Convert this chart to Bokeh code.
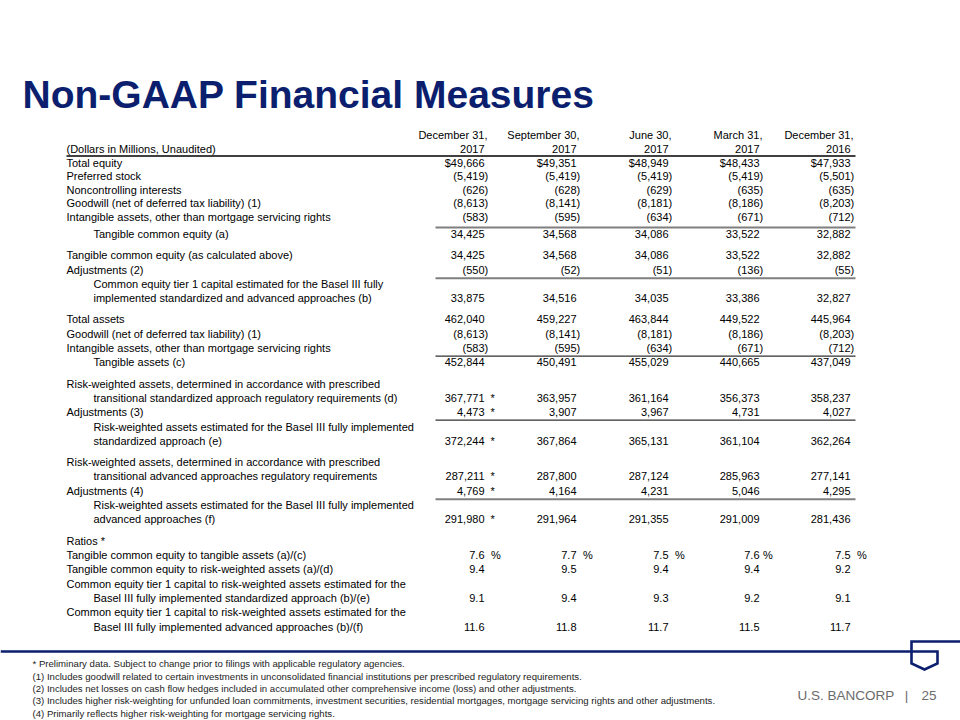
from bokeh.plotting import figure
from bokeh.models import Range1d, ColumnDataSource
from bokeh.core.properties import value
from bokeh.embed import file_html
from bokeh.resources import INLINE

# ---------------- data ----------------
title = "Non-GAAP Financial Measures"
unit_label = "(Dollars in Millions, Unaudited)"
period_month = ["December 31,", "September 30,", "June 30,", "March 31,", "December 31,"]
period_year = ["2017", "2017", "2017", "2017", "2016"]

row_labels = [
    "Total equity",
    "Preferred stock",
    "Noncontrolling interests",
    "Goodwill (net of deferred tax liability) (1)",
    "Intangible assets, other than mortgage servicing rights",
    "Tangible common equity (a)",
    "Tangible common equity (as calculated above)",
    "Adjustments (2)",
    "Common equity tier 1 capital estimated for the Basel III fully",
    "implemented standardized and advanced approaches (b)",
    "Total assets",
    "Goodwill (net of deferred tax liability) (1)",
    "Intangible assets, other than mortgage servicing rights",
    "Tangible assets (c)",
    "Risk-weighted assets, determined in accordance with prescribed",
    "transitional standardized approach regulatory requirements (d)",
    "Adjustments (3)",
    "Risk-weighted assets estimated for the Basel III fully implemented",
    "standardized approach (e)",
    "Risk-weighted assets, determined in accordance with prescribed",
    "transitional advanced approaches regulatory requirements",
    "Adjustments (4)",
    "Risk-weighted assets estimated for the Basel III fully implemented",
    "advanced approaches (f)",
    "Ratios *",
    "Tangible common equity to tangible assets (a)/(c)",
    "Tangible common equity to risk-weighted assets (a)/(d)",
    "Common equity tier 1 capital to risk-weighted assets estimated for the",
    "Basel III fully implemented standardized approach (b)/(e)",
    "Common equity tier 1 capital to risk-weighted assets estimated for the",
    "Basel III fully implemented advanced approaches (b)/(f)",
]
row_indent = [0, 0, 0, 0, 0, 1, 0, 0, 1, 1, 0, 0, 0, 1, 0, 1, 0, 1, 1, 0, 1, 0, 1, 1,
              0, 0, 0, 0, 1, 0, 1]
# kind: "usd" dollar amount, "num" number, "pct" percent, "rat" ratio, "" label only
row_kind = ["usd", "num", "num", "num", "num", "num", "num", "num", "", "num",
            "num", "num", "num", "num", "", "num", "num", "", "num",
            "", "num", "num", "", "num",
            "", "pct", "rat", "", "rat", "", "rat"]

dec_2017 = [49666, -5419, -626, -8613, -583, 34425, 34425, -550, None, 33875,
            462040, -8613, -583, 452844, None, 367771, 4473, None, 372244,
            None, 287211, 4769, None, 291980,
            None, 7.6, 9.4, None, 9.1, None, 11.6]
sep_2017 = [49351, -5419, -628, -8141, -595, 34568, 34568, -52, None, 34516,
            459227, -8141, -595, 450491, None, 363957, 3907, None, 367864,
            None, 287800, 4164, None, 291964,
            None, 7.7, 9.5, None, 9.4, None, 11.8]
jun_2017 = [48949, -5419, -629, -8181, -634, 34086, 34086, -51, None, 34035,
            463844, -8181, -634, 455029, None, 361164, 3967, None, 365131,
            None, 287124, 4231, None, 291355,
            None, 7.5, 9.4, None, 9.3, None, 11.7]
mar_2017 = [48433, -5419, -635, -8186, -671, 33522, 33522, -136, None, 33386,
            449522, -8186, -671, 440665, None, 356373, 4731, None, 361104,
            None, 285963, 5046, None, 291009,
            None, 7.6, 9.4, None, 9.2, None, 11.5]
dec_2016 = [47933, -5501, -635, -8203, -712, 32882, 32882, -55, None, 32827,
            445964, -8203, -712, 437049, None, 358237, 4027, None, 362264,
            None, 277141, 4295, None, 281436,
            None, 7.5, 9.2, None, 9.1, None, 11.7]
period_values = [dec_2017, sep_2017, jun_2017, mar_2017, dec_2016]
# preliminary (*) flags, latest quarter only
dec_2017_preliminary = [False] * 15 + [True, True, False, True, False, True, True, False, True] + [False] * 7

footnotes = [
    "* Preliminary data. Subject to change prior to filings with applicable regulatory agencies.",
    "(1) Includes goodwill related to certain investments in unconsolidated financial institutions per prescribed regulatory requirements.",
    "(2) Includes net losses on cash flow hedges included in accumulated other comprehensive income (loss) and other adjustments.",
    "(3) Includes higher risk-weighting for unfunded loan commitments, investment securities, residential mortgages, mortgage servicing rights and other adjustments.",
    "(4) Primarily reflects higher risk-weighting for mortgage servicing rights.",
]
brand_name = "U.S. BANCORP"
brand_sep = "|"
page_number = "25"

# ---------------- layout / style ----------------
NAVY = "#0B1F6E"
FONT = value("Liberation Sans")
FS = value("11px")
# vertical step (px) before each row (row visual centres)
row_step = [0, 13.6, 13.6, 13.6, 13.6, 17.5,
            20.8, 14.5, 14.3, 14.3,
            21.0, 14.3, 14.3, 14.3,
            21.3, 14.4, 14.3, 14.3, 14.3,
            21.3, 14.3, 14.3, 14.3, 14.3,
            21.5, 14.3, 14.3, 14.3, 14.3, 14.3, 14.3]
row_y, yy = [], 162.0
for s in row_step:
    yy += s
    row_y.append(yy)
col_right = [484, 576, 668, 759, 850]
pct_gap = [6.5, 6.5, 6.5, 3.5, 6.5]
paren_w = 3.7
LX, IX = 66, 93
MID = "middle"

p = figure(width=960, height=720, x_range=Range1d(0, 960), y_range=Range1d(720, 0),
           x_axis_type=None, y_axis_type=None, toolbar_location=None,
           output_backend="svg", min_border=0, outline_line_color=None)
p.background_fill_color = "white"
p.border_fill_color = "white"

# title
p.text(x=[22], y=[93.5], text=[title], text_font=FONT, text_font_size=value("39px"),
       text_font_style="bold", text_color=NAVY, text_baseline=MID, text_align="left")

# header
hx, hy, ht = [], [], []
for i in range(5):
    hx += [col_right[i] + 3, col_right[i]]
    hy += [134, 148]
    ht += [period_month[i], period_year[i]]
p.text(x=hx, y=hy, text=ht, text_font=FONT, text_font_size=FS, text_color="black",
       text_align="right", text_baseline=MID)
p.text(x=[LX], y=[148], text=[unit_label], text_font=FONT, text_font_size=FS,
       text_color="black", text_align="left", text_baseline=MID)

# row labels
lab = ColumnDataSource(dict(x=[IX if ind else LX for ind in row_indent],
                            y=row_y, t=row_labels))
p.text(x="x", y="y", text="t", source=lab, text_font=FONT, text_font_size=FS,
       text_color="black", text_align="left", text_baseline=MID)

# values
vx, vy, vt = [], [], []
sx, sy, st = [], [], []
for c, vals in enumerate(period_values):
    for r, v in enumerate(vals):
        kind = row_kind[r]
        if v is None or kind == "":
            continue
        yb = row_y[r]
        if kind in ("pct", "rat"):
            s = f"{v:.1f}"
            x = col_right[c]
            if kind == "pct":
                sx.append(col_right[c] + pct_gap[c]); sy.append(yb); st.append("%")
        elif v < 0:
            s = f"({abs(v):,})"
            x = col_right[c] + paren_w
        else:
            s = ("$" if kind == "usd" else "") + f"{v:,}"
            x = col_right[c]
        vx.append(x); vy.append(yb); vt.append(s)
        if c == 0 and dec_2017_preliminary[r]:
            sx.append(col_right[c] + 6); sy.append(yb); st.append("*")
p.text(x=vx, y=vy, text=vt, text_font=FONT, text_font_size=FS, text_color="black",
       text_align="right", text_baseline=MID)
p.text(x=sx, y=sy, text=st, text_font=FONT, text_font_size=FS, text_color="black",
       text_align="left", text_baseline=MID)

# rules
p.segment(x0=[LX], y0=[155.5], x1=[855], y1=[155.5], line_color="#404040", line_width=2)
RX0, RX1 = 435, 855
gray_rules = [row_y[5] - 7, row_y[7] + 8.5, row_y[21] + 8.5]
dark_rules = [row_y[13] - 6, row_y[16] + 8]
p.segment(x0=[RX0] * 3, y0=gray_rules, x1=[RX1] * 3, y1=gray_rules,
          line_color="#7f7f7f", line_width=2)
p.segment(x0=[RX0] * 2, y0=dark_rules, x1=[RX1] * 2, y1=dark_rules,
          line_color="#303030", line_width=1.3)

# bottom rule + logo
p.line(x=[0, 937, 937, 924, 911, 911, 960], y=[651, 651, 663, 669, 663, 641, 641],
       line_color=NAVY, line_width=2.6, line_join="miter")

# footnotes
fy = [663, 675.5, 688, 700.3, 712.5]
p.text(x=[32] * 5, y=fy, text=footnotes, text_font=FONT,
       text_font_size=value("9.6px"), text_color="#222222", text_align="left",
       text_baseline=MID)
p.text(x=[797, 906, 936], y=[694.5, 694.5, 694.5], text=[brand_name, brand_sep, page_number],
       text_align=["left", "center", "right"],
       text_font=FONT, text_font_size=value("13.5px"),
       text_color="#6b6b6b", text_baseline=MID)

open("out.html", "w").write(file_html(p, INLINE))
